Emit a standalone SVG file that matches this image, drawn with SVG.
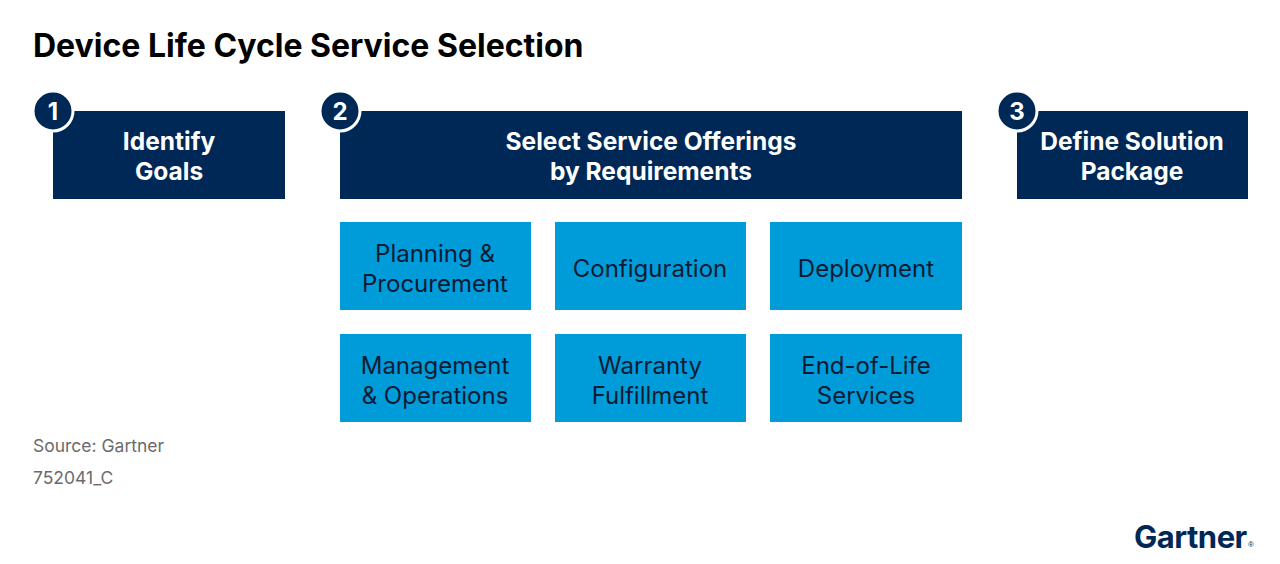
<svg xmlns="http://www.w3.org/2000/svg" width="1280" height="564" viewBox="0 0 1280 564">
<style>
.h{fill:#002856}
.hb{fill:#fff;font:bold 24.5px "Inter","Liberation Sans",sans-serif;text-anchor:middle}
.b{fill:#009bd9}
.bt{fill:#0b1b33;font:24px "Inter","Liberation Sans",sans-serif;text-anchor:middle}
.c{fill:#002856;stroke:#fff;stroke-width:3}
.ct{fill:#fff;font:bold 24px "Inter","Liberation Sans",sans-serif;text-anchor:middle}
.s{fill:#6b6b6b;font:17.5px "Inter","Liberation Sans",sans-serif}
</style>
<rect width="1280" height="564" fill="#fff"/>
<text x="33" y="57" style="fill:#000;font:bold 32px 'Inter','Liberation Sans',sans-serif">Device Life Cycle Service Selection</text>
<g id="n1"><rect class="h" x="53" y="111" width="232" height="88"/><text class="hb" x="169" y="150">Identify</text><text class="hb" x="169" y="180">Goals</text><circle class="c" cx="53" cy="111" r="20"/><text class="ct" x="53" y="120">1</text></g>
<g id="n2"><rect class="h" x="340" y="111" width="622" height="88"/><text class="hb" x="651" y="150">Select Service Offerings</text><text class="hb" x="651" y="180">by Requirements</text><circle class="c" cx="340" cy="111" r="20"/><text class="ct" x="340" y="120">2</text></g>
<g id="n3"><rect class="h" x="1017" y="111" width="231" height="88"/><text class="hb" x="1132" y="150">Define Solution</text><text class="hb" x="1132" y="180">Package</text><circle class="c" cx="1017" cy="111" r="20"/><text class="ct" x="1017" y="120">3</text></g>
<g id="b1"><rect class="b" x="340" y="222" width="191" height="88"/><text class="bt" x="435" y="262">Planning &amp;</text><text class="bt" x="435" y="292">Procurement</text></g>
<g id="b2"><rect class="b" x="555" y="222" width="191" height="88"/><text class="bt" x="650" y="277">Configuration</text></g>
<g id="b3"><rect class="b" x="770" y="222" width="192" height="88"/><text class="bt" x="866" y="277">Deployment</text></g>
<g id="b4"><rect class="b" x="340" y="334" width="191" height="88"/><text class="bt" x="435" y="374">Management</text><text class="bt" x="435" y="404">&amp; Operations</text></g>
<g id="b5"><rect class="b" x="555" y="334" width="191" height="88"/><text class="bt" x="650" y="374">Warranty</text><text class="bt" x="650" y="404">Fulfillment</text></g>
<g id="b6"><rect class="b" x="770" y="334" width="192" height="88"/><text class="bt" x="866" y="374">End-of-Life</text><text class="bt" x="866" y="404">Services</text></g>
<g id="connectors"></g>
<text class="s" x="33" y="452">Source: Gartner</text>
<text class="s" x="33" y="484">752041_C</text>
<text x="1134" y="548" style="fill:#002856;font:bold 31px 'Inter','Liberation Sans',sans-serif;letter-spacing:-0.5px">Gartner</text>
<text x="1248" y="547" style="fill:#002856;font:8px 'Liberation Sans',sans-serif">®</text>
</svg>
